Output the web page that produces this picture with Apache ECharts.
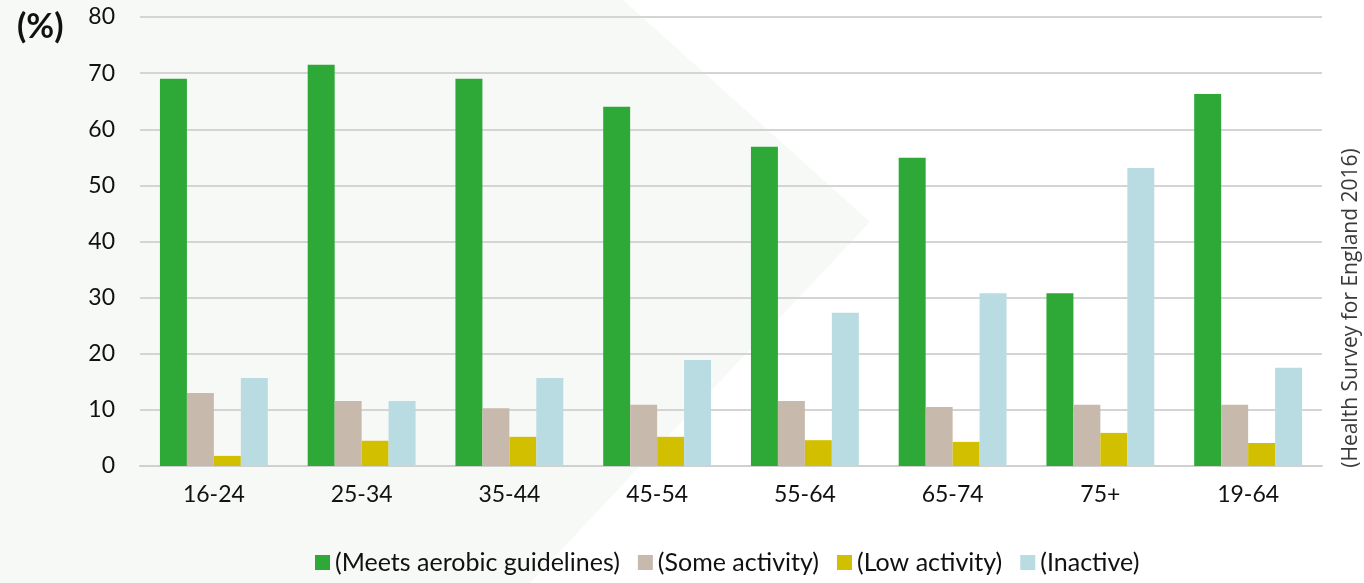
<!DOCTYPE html>
<html><head><meta charset="utf-8">
<script src="https://cdn.jsdelivr.net/npm/echarts@6/dist/echarts.min.js"></script>
<style>html,body{margin:0;padding:0;background:#fff}#c{width:1364px;height:583px}</style>
</head><body><div id="c"></div>
<script>
const categories = ['16-24','25-34','35-44','45-54','55-64','65-74','75+','19-64'];
const meetsAerobic = [69.0, 71.5, 69.0, 64.0, 56.9, 54.9, 30.8, 66.3];
const someActivity = [13.0, 11.6, 10.3, 10.9, 11.6, 10.5, 10.9, 10.9];
const lowActivity = [1.8, 4.5, 5.2, 5.2, 4.6, 4.3, 5.9, 4.1];
const inactive = [15.7, 11.6, 15.7, 18.9, 27.3, 30.8, 53.1, 17.5];
const seriesNames = ['(Meets aerobic guidelines)','(Some activity)','(Low activity)','(Inactive)'];
const colors = ['#2ea836','#c8b9ad','#d2c000','#b9dbe2'];
const font = 'Lato, "Noto Sans", sans-serif';

const chart = echarts.init(document.getElementById('c'));
const data = [meetsAerobic, someActivity, lowActivity, inactive];
chart.setOption({
  animation: false,
  backgroundColor: '#ffffff',
  graphic: [
    { type: 'polygon', z: -10, silent: true,
      shape: { points: [[0,0],[623,0],[870,222],[530,583],[0,583]] },
      style: { fill: '#f7f9f7' } },
    { type: 'text', left: 17, top: 10, style: { text: '(%)', font: 'bold 34px ' + font, fill: '#111' } },
    { type: 'text', x: 1362, y: 308, rotation: Math.PI/2, style: { text: '(Health Survey for England 2016)', font: '21px "Open Sans", sans-serif', fill: '#3a3a3a', align: 'center', verticalAlign: 'bottom' } }
  ],
  grid: { left: 140, right: 42, top: 17, bottom: 117 },
  legend: {
    bottom: 3, left: 310, itemWidth: 15, itemHeight: 15, itemGap: 18, icon: 'rect',
    textStyle: { fontFamily: font, fontSize: 25, color: '#111' },
    data: seriesNames
  },
  xAxis: {
    type: 'category', data: categories,
    axisLine: { lineStyle: { color: '#d0d0d0', width: 2 } },
    axisTick: { show: false },
    axisLabel: { fontFamily: font, fontSize: 23, color: '#111', margin: 17 }
  },
  yAxis: {
    type: 'value', min: 0, max: 80, interval: 10,
    axisLine: { show: false }, axisTick: { show: false },
    splitLine: { lineStyle: { color: '#d4d4d4', width: 2 } },
    axisLabel: { fontFamily: font, fontSize: 23, color: '#111', margin: 25 }
  },
  series: data.map((d, i) => ({
    type: 'bar', name: seriesNames[i], data: d,
    itemStyle: { color: colors[i] },
    barGap: '0%', barCategoryGap: '27%'
  }))
});
</script></body></html>
